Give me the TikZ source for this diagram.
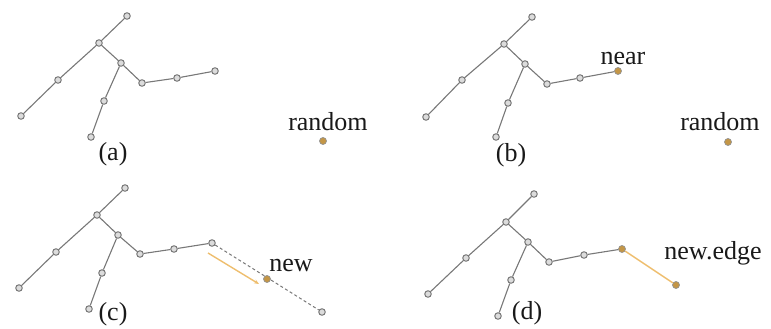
\documentclass[tikz,border=0pt]{standalone}
\usepackage{fontspec}
\setmainfont{Liberation Serif}
\usetikzlibrary{arrows.meta}
\definecolor{edgegray}{RGB}{120,120,120}
\definecolor{nodefill}{RGB}{220,220,220}
\definecolor{hotfill}{RGB}{196,150,70}
\definecolor{hotline}{RGB}{238,190,110}
\tikzset{
  vtx/.style={circle,draw=edgegray,fill=nodefill,line width=1pt,inner sep=0pt,minimum size=6.5pt},
  hot/.style={circle,draw=edgegray!80,fill=hotfill,line width=0.7pt,inner sep=0pt,minimum size=7pt},
  edg/.style={draw=edgegray,line width=1.1pt},
  hotedg/.style={draw=hotline,line width=1.4pt},
  dsh/.style={draw=edgegray,line width=1pt,dash pattern=on 3pt off 2.5pt},
  lbl/.style={font=\fontsize{26}{28}\selectfont,inner sep=0pt,anchor=base,text=black!90}
}
\begin{document}
\begin{tikzpicture}[x=1pt,y=-1pt]
\useasboundingbox (0,0) rectangle (771,329);
% ---------- (a)
\node[vtx] (a1) at (127,16) {};
\node[vtx] (a2) at (99,43) {};
\node[vtx] (a3) at (58,80) {};
\node[vtx] (a4) at (21,116) {};
\node[vtx] (a5) at (121,63) {};
\node[vtx] (a6) at (104,101) {};
\node[vtx] (a7) at (91,137) {};
\node[vtx] (a8) at (142,83) {};
\node[vtx] (a9) at (177,78) {};
\node[vtx] (a10) at (215,71) {};
\node[hot] (ar) at (323,141) {};
\draw[edg] (a1)--(a2) (a2)--(a3) (a3)--(a4) (a2)--(a5) (a5)--(a6) (a6)--(a7) (a5)--(a8) (a8)--(a9) (a9)--(a10);
\node[lbl] (arl) at (328,130) {random};
\node[lbl] (acap) at (113,160) {(a)};
% ---------- (b)
\node[vtx] (b1) at (532,17) {};
\node[vtx] (b2) at (504,44) {};
\node[vtx] (b3) at (462,80) {};
\node[vtx] (b4) at (426,117) {};
\node[vtx] (b5) at (525,64) {};
\node[vtx] (b6) at (508,103) {};
\node[vtx] (b7) at (496,137) {};
\node[vtx] (b8) at (547,84) {};
\node[vtx] (b9) at (580,78) {};
\node[hot] (b10) at (618,71) {};
\node[hot] (br) at (728,142) {};
\draw[edg] (b1)--(b2) (b2)--(b3) (b3)--(b4) (b2)--(b5) (b5)--(b6) (b6)--(b7) (b5)--(b8) (b8)--(b9) (b9)--(b10);
\node[lbl] (bnl) at (623,64) {near};
\node[lbl] (brl) at (720,130) {random};
\node[lbl] (bcap) at (511,161) {(b)};
% ---------- (c)
\node[vtx] (c1) at (125,188) {};
\node[vtx] (c2) at (97,215) {};
\node[vtx] (c3) at (56,252) {};
\node[vtx] (c4) at (19,288) {};
\node[vtx] (c5) at (118,235) {};
\node[vtx] (c6) at (102,273) {};
\node[vtx] (c7) at (89,309) {};
\node[vtx] (c8) at (140,254) {};
\node[vtx] (c9) at (174,249) {};
\node[vtx] (c10) at (212,243) {};
\node[vtx] (cr) at (322,312) {};
\draw[edg] (c1)--(c2) (c2)--(c3) (c3)--(c4) (c2)--(c5) (c5)--(c6) (c6)--(c7) (c5)--(c8) (c8)--(c9) (c9)--(c10);
\draw[dsh] (c10)--(cr);
\coordinate (cas) at (208,253);
\coordinate (cae) at (259,284);
\draw[hotedg,-{Stealth[length=5pt,width=4pt]}] (cas)--(cae);
\node[hot] (cn) at (267,279) {};
\node[lbl] (cnl) at (291,271) {new};
\node[lbl] (ccap) at (113,320) {(c)};
% ---------- (d)
\node[vtx] (d1) at (534,194) {};
\node[vtx] (d2) at (506,222) {};
\node[vtx] (d3) at (466,258) {};
\node[vtx] (d4) at (428,294) {};
\node[vtx] (d5) at (528,242) {};
\node[vtx] (d6) at (511,280) {};
\node[vtx] (d7) at (498,316) {};
\node[vtx] (d8) at (549,262) {};
\node[vtx] (d9) at (584,255) {};
\node[hot] (d10) at (622,249) {};
\node[hot] (dn) at (676,285) {};
\draw[edg] (d1)--(d2) (d2)--(d3) (d3)--(d4) (d2)--(d5) (d5)--(d6) (d6)--(d7) (d5)--(d8) (d8)--(d9) (d9)--(d10);
\draw[hotedg] (d10)--(dn);
\node[lbl] (dnl) at (713,259) {new.edge};
\node[lbl] (dcap) at (527,319) {(d)};
\end{tikzpicture}
\end{document}
